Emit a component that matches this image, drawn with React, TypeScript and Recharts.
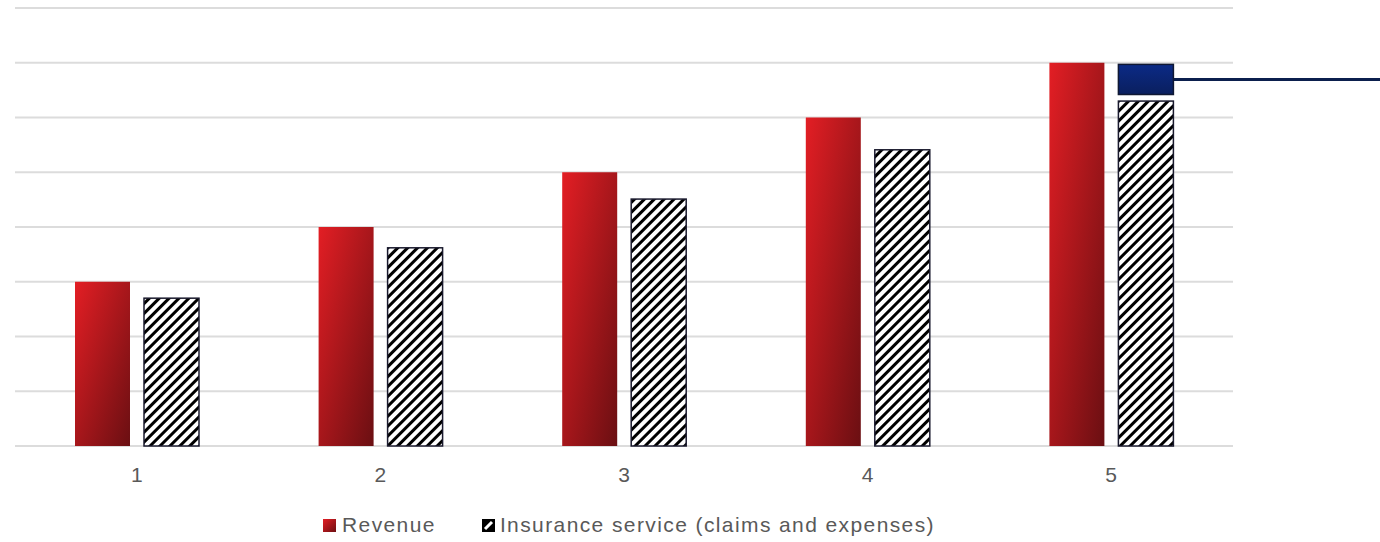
import React from "react";
import {
  Bar,
  BarChart,
  CartesianGrid,
  Legend,
  XAxis,
  YAxis,
} from "recharts";

const CATEGORIES = ["1", "2", "3", "4", "5"];
const REVENUE = [3, 4, 5, 6, 7];
const INSURANCE = [2.7, 3.62, 4.51, 5.41, 6.3];
const MARGIN_GAP = [0, 0, 0, 0, 0.12];
const MARGIN = [0, 0, 0, 0, 0.55];
const Y_TICKS = [0, 1, 2, 3, 4, 5, 6, 7, 8];

const CHART_W = 1380;
const CHART_H = 542;
const FONT = '"Liberation Sans", Arial, sans-serif';
const TEXT = "#595959";

const data = CATEGORIES.map((c, i) => ({
  name: c,
  revenue: REVENUE[i],
  insurance: INSURANCE[i],
  gap: MARGIN_GAP[i],
  margin: MARGIN[i],
}));

function NavyShape(props: any) {
  const { x, y, width, height } = props;
  if (!height || height <= 0) return null;
  const mid = y + height / 2;
  return (
    <g>
      <line x1={x + width} x2={CHART_W} y1={mid} y2={mid} stroke="#0b1f4d" strokeWidth={3} />
      <rect x={x} y={y} width={width} height={height} fill="url(#navyGrad)" stroke="#101833" strokeWidth={1.5} />
    </g>
  );
}

function HatchShape(props: any) {
  const { x, y, width, height } = props;
  if (!height || height <= 0) return null;
  return (
    <rect x={x} y={y} width={width} height={height} fill="url(#hatch)" stroke="#1a1a2e" strokeWidth={1.5} />
  );
}

function ChartLegend() {
  const item = { display: "flex", alignItems: "center" } as const;
  return (
    <div
      style={{
        display: "flex",
        justifyContent: "center",
        gap: 46,
        paddingTop: 17,
        paddingLeft: 10,
        fontFamily: FONT,
        fontSize: 21,
        letterSpacing: 1.4,
        lineHeight: "24px",
        color: TEXT,
      }}
    >
      <div style={item}>
        <span
          style={{
            width: 13,
            height: 13,
            marginRight: 6,
            background: "linear-gradient(135deg, #e31e24, #6e0f12)",
          }}
        />
        Revenue
      </div>
      <div style={item}>
        <svg width={13} height={13} style={{ marginRight: 5 }}>
          <rect x={0} y={0} width={13} height={13} fill="#000" />
          <path d="M3 10 L10 3" stroke="#fff" strokeWidth={3} />
        </svg>
        Insurance service (claims and expenses)
      </div>
    </div>
  );
}

export default function App() {
  return (
    <div style={{ position: "absolute", left: 0, top: 0, background: "#fff" }}>
      <BarChart
        width={CHART_W}
        height={CHART_H}
        data={data}
        margin={{ top: 8, right: 147, left: 15, bottom: 0 }}
        barGap={14}
        barSize={55}
      >
        <defs>
          <linearGradient id="redGrad" x1="0" y1="0" x2="1" y2="1">
            <stop offset="0%" stopColor="#e31e24" />
            <stop offset="100%" stopColor="#6a0f12" />
          </linearGradient>
          <linearGradient id="navyGrad" x1="0" y1="0" x2="0" y2="1">
            <stop offset="0%" stopColor="#0b2a86" />
            <stop offset="100%" stopColor="#0a1f5e" />
          </linearGradient>
          <pattern
            id="hatch"
            patternUnits="userSpaceOnUse"
            width={7}
            height={7}
            patternTransform="rotate(45)"
          >
            <rect x={0} y={0} width={7} height={7} fill="#fff" />
            <rect x={0} y={0} width={3.2} height={7} fill="#000" shapeRendering="crispEdges" />
          </pattern>
        </defs>
        <CartesianGrid horizontal vertical={false} stroke="#dcdcdc" strokeWidth={2} />
        <XAxis
          dataKey="name"
          axisLine={false}
          tickLine={false}
          tickSize={0}
          tickMargin={21}
          height={50}
          tick={{ fill: TEXT, fontSize: 21, fontFamily: FONT }}
        />
        <YAxis hide domain={[0, 8]} ticks={Y_TICKS} />
        <Legend verticalAlign="bottom" wrapperStyle={{ height: 46 }} content={<ChartLegend />} />
        <Bar dataKey="revenue" stackId="a" fill="url(#redGrad)" isAnimationActive={false} />
        <Bar dataKey="insurance" stackId="b" shape={<HatchShape />} isAnimationActive={false} />
        <Bar dataKey="gap" stackId="b" fill="transparent" isAnimationActive={false} />
        <Bar dataKey="margin" stackId="b" shape={<NavyShape />} isAnimationActive={false} />
      </BarChart>
    </div>
  );
}
